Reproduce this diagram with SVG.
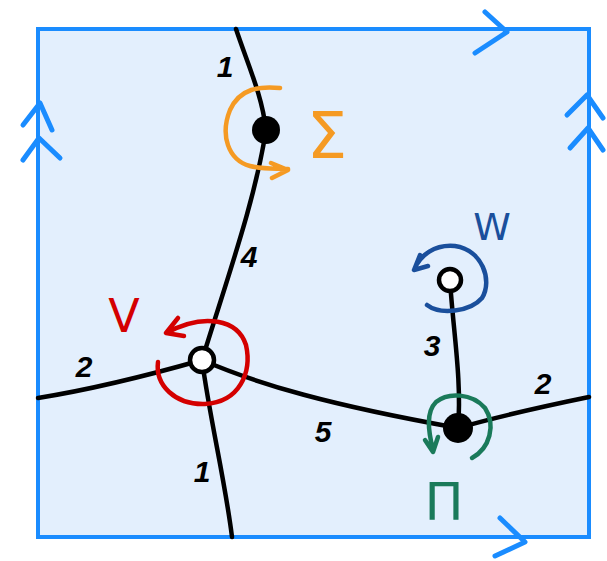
<svg xmlns="http://www.w3.org/2000/svg" width="607" height="561" viewBox="0 0 607 561">
<style>
.edge{fill:none;stroke:#000;stroke-width:4.5;stroke-linecap:round}
.mark{fill:none;stroke:#1a8cff;stroke-width:5;stroke-linecap:round;stroke-linejoin:round}
.num{font-family:"Liberation Sans",Arial,sans-serif;font-weight:bold;font-style:italic;font-size:30px;fill:#000;text-anchor:middle}
.big{font-family:"DejaVu Sans","Liberation Sans",sans-serif;text-anchor:middle}
.rot{fill:none;stroke-width:4.5;stroke-linecap:round;stroke-linejoin:round}
</style>
<rect width="607" height="561" fill="#fff"/>
<g id="square">
<rect x="38" y="29" width="551" height="508" fill="#e3effd" stroke="#1a8cff" stroke-width="4"/>
<path class="mark" d="M485,12 L507,32 L475,53"/>
<path class="mark" d="M500,518 L525,542 L495,556"/>
<path class="mark" d="M23,125 L40,103 L52,130 M23,160 L39,138 L60,158"/>
<path class="mark" d="M567,115 L587,95 L603,118 M570,148 L588,128 L603,150"/>
</g>
<g id="connectors">
<path class="edge" d="M236,29 C248,65 262,95 266,130"/>
<path class="edge" d="M266,130 C255,200 230,270 202,360"/>
<path class="edge" d="M202,360 C210,420 225,480 232,537"/>
<path class="edge" d="M38,398 C100,388 160,372 202,360"/>
<path class="edge" d="M202,360 C260,385 330,405 458,428"/>
<path class="edge" d="M450,280 C453,330 462,380 458,428"/>
<path class="edge" d="M458,428 C500,416 550,405 589,397"/>
<text class="num" x="225" y="77">1</text>
<text class="num" x="249" y="267">4</text>
<text class="num" x="84" y="377">2</text>
<text class="num" x="202" y="482">1</text>
<text class="num" x="323" y="442">5</text>
<text class="num" x="432" y="356">3</text>
<text class="num" x="543" y="394">2</text>
</g>
<g id="sigma">
<circle cx="266" cy="130" r="14" fill="#000"/>
<path class="rot" stroke="#f59a23" d="M280,88 C260,86 240,88 230,110 C220,135 228,160 250,166 C265,170 278,168 288,169 M271,163 L288,170 L272,178"/>
<text class="big" x="327" y="158" font-size="64" fill="#f59a23">Σ</text>
</g>
<g id="v">
<circle cx="202" cy="360" r="12" fill="#fff" stroke="#000" stroke-width="4.5"/>
<path class="rot" stroke="#d40000" d="M158,362 C155,385 175,405 205,404 C240,402 252,372 246,345 C238,320 205,312 166,333 M178,318 L166,333 L184,336"/>
<text class="big" x="124" y="332" font-size="46" fill="#d40000">V</text>
</g>
<g id="w">
<circle cx="450" cy="280" r="11" fill="#fff" stroke="#000" stroke-width="4.5"/>
<path class="rot" stroke="#1a4f9c" d="M427,305 C440,315 470,312 482,298 C493,280 482,250 455,246 C435,244 420,255 414,270 M420,255 L414,270 L428,266"/>
<text class="big" x="492" y="240" font-size="38" fill="#1a4f9c">W</text>
</g>
<g id="pi">
<circle cx="458" cy="428" r="15" fill="#000"/>
<path class="rot" stroke="#1a7a5a" d="M472,458 C490,448 496,425 485,408 C472,393 448,392 436,402 C426,412 428,430 433,450 M425,440 L433,452 L438,437"/>
<text class="big" x="444" y="520" font-size="52" fill="#1a7a5a">Π</text>
</g>
</svg>
